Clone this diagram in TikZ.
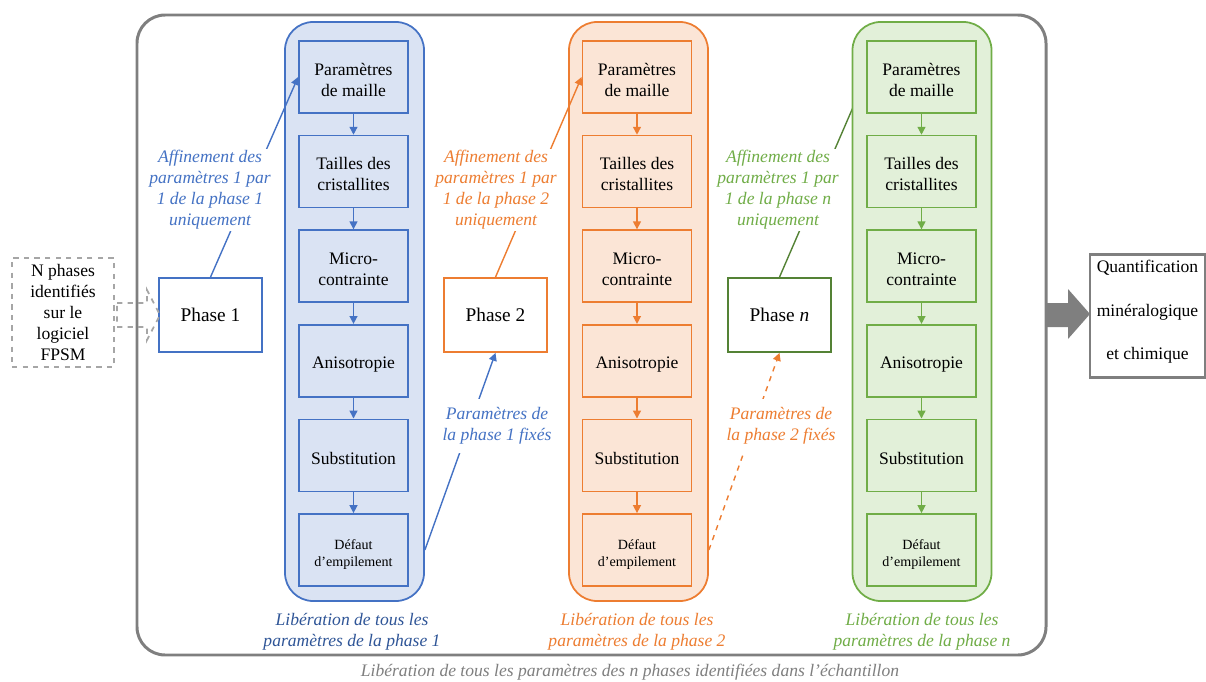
\documentclass[tikz,border=0pt]{standalone}
\usepackage{fontspec}
\setmainfont{Liberation Serif}
\usetikzlibrary{arrows.meta,backgrounds}

\definecolor{pblue}{HTML}{4472C4}
\definecolor{lblue}{HTML}{DAE3F3}
\definecolor{dblue}{HTML}{2F5597}
\definecolor{porange}{HTML}{ED7D31}
\definecolor{lorange}{HTML}{FBE5D6}
\definecolor{pgreen}{HTML}{70AD47}
\definecolor{lgreen}{HTML}{E2F0D9}
\definecolor{dgreen}{HTML}{548235}
\definecolor{fgray}{HTML}{7F7F7F}
\definecolor{lgray}{HTML}{A6A6A6}

\tikzset{
  colbox/.style={draw=#1, line width=1pt, rounded corners=16pt,
    minimum width=27.8mm, minimum height=115.8mm},
  stagebox/.style={draw=#1, line width=1pt, minimum width=21.8mm, text height=22pt,
    minimum height=14.4mm, align=center, font=\fontsize{10}{12}\selectfont},
  phasebox/.style={draw=#1, fill=white, line width=1pt, minimum width=20.6mm,
    minimum height=14.8mm, font=\fontsize{11}{13}\selectfont},
  note/.style={text=#1, fill=white, align=center, font=\itshape, inner sep=1pt},
  link/.style={draw=#1, line width=0.8pt, -{Triangle[length=4.5pt,width=4.5pt]}},
}

\begin{document}
\begin{tikzpicture}[x=0.2mm,y=-0.2mm]
\useasboundingbox (0,0) rectangle (1206,682);
% outer frame
\draw[fgray, line width=1.7pt, rounded corners=16pt] (137,15) rectangle (1046,655);

% one column per phase
\node[colbox=pblue, fill=lblue] (colb) at (354.5,311.5) {};
\node[colbox=porange, fill=lorange] (colo) at (638.5,311.5) {};
\node[colbox=pgreen, fill=lgreen] (colg) at (922,311.5) {};

\foreach \c/\x/\col in {b/353.5/pblue, o/637/porange, g/921.5/pgreen} {
  \node[stagebox=\col] (\c1) at (\x,77) {Paramètres\\de maille};
  \node[stagebox=\col] (\c2) at (\x,171.6) {Tailles des\\cristallites};
  \node[stagebox=\col] (\c3) at (\x,266.2) {Micro-\\contrainte};
  \node[stagebox=\col, text height=10.5pt] (\c4) at (\x,360.8) {Anisotropie};
  \node[stagebox=\col, text height=10.5pt] (\c5) at (\x,455.4) {Substitution};
  \node[stagebox=\col, text height=21pt, font=\fontsize{8}{10}\selectfont] (\c6) at (\x,550) {Défaut\\d’empilement};
  \foreach \i [count=\j from 2] in {1,...,5}
    \draw[link=\col] (\c\i) -- (\c\j);
}

% phases
\node[phasebox=pblue] (ph1) at (210.5,315) {Phase 1};
\node[phasebox=porange] (ph2) at (495.5,315) {Phase 2};
\node[phasebox=dgreen] (phn) at (779.5,315) {Phase \textit{n}};

\draw[link=pblue] (ph1.north) -- (b1.west);
\draw[link=porange] (ph2.north) -- (o1.west);
\begin{scope}[on background layer]
  \draw[link=dgreen] (phn.north) -- (g1.west);
\end{scope}
\draw[link=pblue] (b6 -| colb.east) -- (ph2.south);
\draw[link=porange, dashed] (o6 -| colo.east) -- (phn.south);

\node[note=pblue] (aff1) at (210,190) {Affinement des\\paramètres 1 par\\1 de la phase 1\\uniquement};
\node[note=porange] (aff2) at (496,190) {Affinement des\\paramètres 1 par\\1 de la phase 2\\uniquement};
\node[note=pgreen] (affn) at (778,190) {Affinement des\\paramètres 1 par\\1 de la phase n\\uniquement};
\node[note=pblue, inner sep=5pt] (fix1) at (497,426) {Paramètres de\\la phase 1 fixés};
\node[note=porange, inner sep=5pt] (fix2) at (781,426) {Paramètres de\\la phase 2 fixés};

\node[note=dblue] (libb) at (352,632) {Libération de tous les\\paramètres de la phase 1};
\node[note=porange] (libo) at (637,632) {Libération de tous les\\paramètres de la phase 2};
\node[note=pgreen] (libg) at (922,632) {Libération de tous les\\paramètres de la phase n};
\node[note=fgray] (libtot) at (630,672) {Libération de tous les paramètres des n phases identifiées dans l’échantillon};

% input and output
\node[draw=lgray, dashed, line width=1pt, minimum width=20.4mm, minimum height=21mm,
  align=center, font=\fontsize{10}{12}\selectfont] (src) at (63,312.5)
  {N phases\\identifiés\\sur le\\logiciel\\FPSM};
\draw[lgray, dashed, line width=1pt] (117,303) -- (147,303) -- (147,290) -- (160,315)
  -- (147,340) -- (147,327) -- (117,327) -- cycle;
\fill[fgray] (1047,303) -- (1068,303) -- (1068,289) -- (1090,314) -- (1068,339)
  -- (1068,327) -- (1047,327) -- cycle;
\node[draw=fgray, line width=1.7pt, minimum width=23mm, minimum height=24.4mm,
  text depth=7pt, align=center, font=\fontsize{10}{24.5}\selectfont] (quant) at (1147.5,316)
  {Quantification\\minéralogique\\et chimique};
\end{tikzpicture}
\end{document}
